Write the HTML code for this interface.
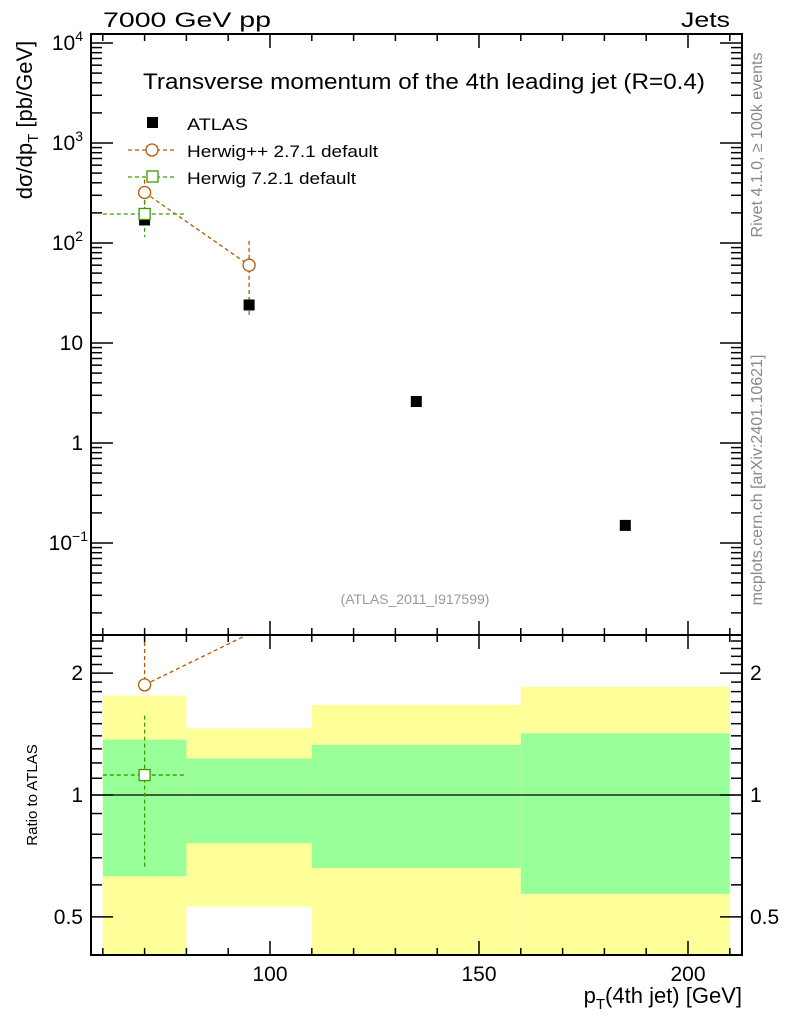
<!DOCTYPE html>
<html><head><meta charset="utf-8"><style>
body{margin:0;background:#fff}
svg text{font-family:"Liberation Sans",sans-serif}
</style></head><body>
<svg id="c" width="786" height="1024" xmlns="http://www.w3.org/2000/svg">
<g id="bands"></g>
<g id="marks"></g>
<g id="axes"></g>
<text x="103" y="27" font-size="21" textLength="168" lengthAdjust="spacingAndGlyphs">7000 GeV pp</text>
<text x="681" y="27" font-size="21" textLength="49" lengthAdjust="spacingAndGlyphs">Jets</text>
<text x="143" y="89" font-size="22" textLength="562" lengthAdjust="spacingAndGlyphs">Transverse momentum of the 4th leading jet (R=0.4)</text>
<g>
<rect x="147" y="117" width="11" height="11" fill="#000"/>
<text x="187" y="130" font-size="17" textLength="61" lengthAdjust="spacingAndGlyphs">ATLAS</text>
<line x1="128" y1="150" x2="176" y2="150" stroke="#b35900" stroke-width="1.3" stroke-dasharray="4,3"/>
<circle cx="152" cy="150" r="6" fill="#fff" stroke="#b35900" stroke-width="1.3"/>
<text x="187" y="157" font-size="17" textLength="191" lengthAdjust="spacingAndGlyphs">Herwig++ 2.7.1 default</text>
<line x1="128" y1="177" x2="176" y2="177" stroke="#3a9a00" stroke-width="1.3" stroke-dasharray="4,3"/>
<rect x="147" y="171" width="11" height="11" fill="#fff" stroke="#3a9a00" stroke-width="1.3"/>
<text x="187" y="184" font-size="17" textLength="169" lengthAdjust="spacingAndGlyphs">Herwig 7.2.1 default</text>
</g>
<text x="415" y="604" font-size="14" fill="#999" text-anchor="middle">(ATLAS_2011_I917599)</text>
<text transform="translate(32,120) rotate(-90)" font-size="22" text-anchor="middle">dσ/dp<tspan font-size="15" dy="6">T</tspan><tspan dy="-6">  [pb/GeV]</tspan></text>
<text transform="translate(37,795) rotate(-90)" font-size="15" text-anchor="middle">Ratio to ATLAS</text>
<text x="742" y="1003" font-size="22" text-anchor="end">p<tspan font-size="15" dy="6">T</tspan><tspan dy="-6">(4th jet) [GeV]</tspan></text>
<text transform="translate(762,145) rotate(-90)" font-size="16" fill="#888" text-anchor="middle">Rivet 4.1.0, ≥ 100k events</text>
<text transform="translate(762,480) rotate(-90)" font-size="16" fill="#888" text-anchor="middle">mcplots.cern.ch [arXiv:2401.10621]</text>
</svg>
<script>
const binEdges=[60,80,110,160,210];
const binCenters=[70,95,135,185];
const atlasValues=[170,24,2.6,0.15];
const herwigppValues=[320,60];
const herwigppErrUp=[430,105];
const herwigppErrDown=[190,18];
const herwig7Values=[195];
const herwig7ErrUp=[270];
const herwig7ErrDown=[115];
const bandYellowHi=[1.76,1.46,1.67,1.85];
const bandYellowLo=[0.3,0.53,0.3,0.3];
const bandGreenHi=[1.37,1.23,1.33,1.42];
const bandGreenLo=[0.63,0.76,0.66,0.57];
const herwigppRatio=[1.87,2.5];
const herwig7Ratio=[1.12];
const herwig7RatioUp=[1.57];
const herwig7RatioDown=[0.66];
const yMainTicks=[1e4,1e3,1e2,10,1,0.1];
const yMainLabels=['10^4','10^3','10^2','10','1','10^-1'];
const yRatioTicks=[2,1,0.5];
const xTicks=[100,150,200];

const L=91,R=742,T=34,MB=635,RB=955;
const X=v=>270+(v-100)*4.18;
const Y=v=>443-100*Math.log10(v);
const YR=v=>Math.min(RB,Math.max(MB,795-405*Math.log10(v)));
const NS='http://www.w3.org/2000/svg';
function mk(p,tag,a){const e=document.createElementNS(NS,tag);for(const k in a)e.setAttribute(k,a[k]);document.getElementById(p).appendChild(e);return e;}
const OR='#b35900',GR='#3a9a00';
for(let i=0;i<4;i++){
 const x1=X(binEdges[i]),x2=X(binEdges[i+1]);
 let r=mk('bands','rect',{x:x1,y:YR(bandYellowHi[i]),width:x2-x1,height:YR(bandYellowLo[i])-YR(bandYellowHi[i]),fill:'#ffff99'});
 
 
 r=mk('bands','rect',{x:x1,y:YR(bandGreenHi[i]),width:x2-x1,height:YR(bandGreenLo[i])-YR(bandGreenHi[i]),fill:'#99ff99'});
 
 
}
mk('bands','line',{x1:L,x2:R,y1:YR(1),y2:YR(1),stroke:'#000','stroke-width':1.2});
const dash={stroke:'',"stroke-width":1.3,"stroke-dasharray":'4,3',fill:'none'};
function dl(x1,y1,x2,y2,c){const o=Object.assign({},dash,{x1,y1,x2,y2,stroke:c});return mk('marks','line',o);}
dl(X(binCenters[0]),Y(herwigppValues[0]),X(binCenters[1]),Y(herwigppValues[1]),OR);
for(let i=0;i<herwigppValues.length;i++){
 dl(X(binCenters[i]),Y(herwigppErrUp[i]),X(binCenters[i]),Y(herwigppErrDown[i]),OR);
}
for(let i=0;i<herwig7Values.length;i++){
 dl(X(binCenters[i]),Y(herwig7ErrUp[i]),X(binCenters[i]),Y(herwig7ErrDown[i]),GR);
 dl(X(binEdges[i]),Y(herwig7Values[i]),X(binEdges[i+1]),Y(herwig7Values[i]),GR);
}
for(let i=0;i<atlasValues.length;i++){
 const r=mk('marks','rect',{x:X(binCenters[i])-5.5,y:Y(atlasValues[i])-5.5,width:11,height:11,fill:'#000'});
 
 
}
for(let i=0;i<herwig7Values.length;i++){
 const r=mk('marks','rect',{x:X(binCenters[i])-5.5,y:Y(herwig7Values[i])-5.5,width:11,height:11,fill:'#fff',stroke:GR,'stroke-width':1.3});
 
 
}
for(let i=0;i<herwigppValues.length;i++){
 const c=mk('marks','circle',{cx:X(binCenters[i]),cy:Y(herwigppValues[i]),r:6,fill:'#fff',stroke:OR,'stroke-width':1.3});
 
 
}
{const x0=X(binCenters[0]),y0=YR(herwigppRatio[0]),x1=X(binCenters[1]);
 const y1r=795-405*Math.log10(herwigppRatio[1]);
 const t=(y0-MB)/(y0-y1r);
 dl(x0,y0,x0+(x1-x0)*Math.min(1,t),Math.max(MB,y1r),OR);
 dl(x0,MB,x0,y0,OR);}
for(let i=0;i<herwig7Ratio.length;i++){
 dl(X(binCenters[i]),YR(herwig7RatioUp[i]),X(binCenters[i]),YR(herwig7RatioDown[i]),GR);
 dl(X(binEdges[i]),YR(herwig7Ratio[i]),X(binEdges[i+1]),YR(herwig7Ratio[i]),GR);
 const r=mk('marks','rect',{x:X(binCenters[i])-5.5,y:YR(herwig7Ratio[i])-5.5,width:11,height:11,fill:'#fff',stroke:GR,'stroke-width':1.3});
 
 
}
{const c=mk('marks','circle',{cx:X(binCenters[0]),cy:YR(herwigppRatio[0]),r:6,fill:'#fff',stroke:OR,'stroke-width':1.3});
 
 }
const ax='axes';
mk(ax,'rect',{x:L,y:T,width:R-L,height:MB-T,fill:'none',stroke:'#000','stroke-width':2});
mk(ax,'rect',{x:L,y:MB,width:R-L,height:RB-MB,fill:'none',stroke:'#000','stroke-width':2});
function tl(x1,y1,x2,y2){mk(ax,'line',{x1,y1,x2,y2,stroke:'#000','stroke-width':1.5});}
for(let v=60;v<=210;v+=10){const x=X(v),maj=v%50==0,h=maj?14:7;
 [T,MB].forEach(y=>tl(x,y,x,y+h));[MB,RB].forEach(y=>tl(x,y,x,y-h));}
xTicks.forEach(v=>{const t=mk(ax,'text',{x:X(v),y:981,'font-size':21,'text-anchor':'middle'});t.textContent=v;
 
 });
for(let e=-2;e<=4;e++)for(let m=1;m<10;m++){const v=m*Math.pow(10,e),y=Y(v);if(y<T||y>MB)continue;const h=m==1?22:11;tl(L,y,L+h,y);tl(R,y,R-h,y);}
yMainTicks.forEach((v,i)=>{const s=yMainLabels[i];const t=mk(ax,'text',{x:83,y:Y(v)+7,'font-size':21,'text-anchor':'end'});
 
 
 if(s.includes('^')){const [b,p]=s.split('^');t.textContent=b;const sp=document.createElementNS(NS,'tspan');sp.setAttribute('font-size','14');sp.setAttribute('dy','-9');sp.textContent=p.replace('-','−');t.appendChild(sp);t.setAttribute('x',p.length>1?88:83);}
 else t.textContent=s;});
for(let v=0.4;v<=2.5;v+=0.1){const vv=Math.round(v*10)/10,y=795-405*Math.log10(vv);if(y<MB||y>RB)continue;const maj=(vv==0.5||vv==1||vv==2);const h=maj?22:11;tl(L,y,L+h,y);tl(R,y,R-h,y);}
yRatioTicks.forEach(v=>{let t=mk(ax,'text',{x:83,y:YR(v)+7,'font-size':21,'text-anchor':'end'});t.textContent=v;
 
 
 t=mk(ax,'text',{x:750,y:YR(v)+7,'font-size':21});t.textContent=v;
 
 });
</script>
</body></html>
